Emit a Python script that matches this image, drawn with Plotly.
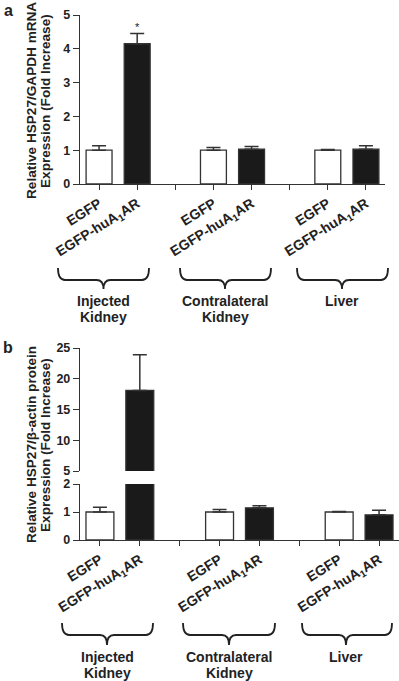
import plotly.graph_objects as go

W, H = 399, 681

def X(px):
    return px / W

def Y(py):
    return 1 - py / H

# ---------------- data ----------------
tick_labels = ["EGFP", "EGFP-huA<sub>1</sub>AR", "",
               "EGFP", "EGFP-huA<sub>1</sub>AR", "",
               "EGFP", "EGFP-huA<sub>1</sub>AR"]
tick_positions = [0, 1, 2, 3, 4, 5, 6, 7]
egfp_pos = [0, 3, 6]
hua_pos = [1, 4, 7]
groups_line1 = ["Injected", "Contralateral", "Liver"]
groups_line2 = ["Kidney", "Kidney", ""]

mrna_egfp = [1.0, 1.0, 1.0]
mrna_egfp_err = [0.13, 0.08, 0.02]
mrna_hua = [4.15, 1.03, 1.03]
mrna_hua_err = [0.30, 0.08, 0.10]
mrna_sig = ["*", "", ""]

prot_egfp = [1.0, 1.0, 1.0]
prot_egfp_err = [0.17, 0.09, 0.02]
prot_hua = [18.1, 1.15, 0.90]
prot_hua_err = [5.8, 0.07, 0.16]
prot_sig = ["*", "", ""]

FONT = "Liberation Sans, Arial, Helvetica, sans-serif"
INK = "#222222"
BLACK = "#1a1a1a"

fig = go.Figure()

def add_bars(vals, errs, pos, color, xa, ya, width):
    fig.add_trace(go.Bar(
        x=pos, y=vals, width=width, xaxis=xa, yaxis=ya,
        marker=dict(color=color, line=dict(color="#333333", width=1.3)),
        error_y=dict(type="data", symmetric=False, array=errs,
                     arrayminus=[0] * len(errs), color="#333333",
                     thickness=1.5, width=7),
        showlegend=False, hoverinfo="skip"))

def add_sig(vals, errs, pos, sig, xa, ya):
    fig.add_trace(go.Scatter(
        x=pos, y=[v + e for v, e in zip(vals, errs)], text=sig,
        mode="text", textposition="top center", xaxis=xa, yaxis=ya,
        textfont=dict(family=FONT, size=11, color=INK),
        showlegend=False, hoverinfo="skip"))

# panel a
add_bars(mrna_egfp, mrna_egfp_err, egfp_pos, "white", "x", "y", 0.68)
add_bars(mrna_hua, mrna_hua_err, hua_pos, BLACK, "x", "y", 0.68)
add_sig(mrna_hua, mrna_hua_err, hua_pos, mrna_sig, "x", "y")

# panel b (broken axis: lower y2, upper y3)
for ya in ("y2", "y3"):
    add_bars(prot_egfp, prot_egfp_err, egfp_pos, "white", "x2", ya, 0.70)
    add_bars(prot_hua, prot_hua_err, hua_pos, BLACK, "x2", ya, 0.70)
add_sig(prot_hua, prot_hua_err, hua_pos, prot_sig, "x2", "y3")

tickfont = dict(family=FONT, size=12.5, color=INK, weight="bold")
xtickfont = dict(family=FONT, size=14, color=INK, weight="bold")

common_x = dict(range=[-0.5, 7.5], tickmode="array", tickvals=tick_positions,
                ticktext=tick_labels, tickangle=-32, ticks="outside", ticklen=5,
                tickcolor="#333333", showline=True, linecolor="#333333",
                linewidth=1.2, showgrid=False, zeroline=False, tickfont=xtickfont,
                fixedrange=True, automargin=False)
common_y = dict(ticks="outside", ticklen=6, tickcolor="#333333", showline=True,
                linecolor="#333333", linewidth=1.2, showgrid=False,
                zeroline=False, tickfont=tickfont, fixedrange=True,
                automargin=False)

fig.update_layout(
    template="none",
    width=W, height=H, margin=dict(l=0, r=0, t=0, b=0, pad=0),
    paper_bgcolor="white", plot_bgcolor="white", barmode="overlay",
    xaxis=dict(domain=[X(80), X(385)], anchor="y", **common_x),
    yaxis=dict(domain=[Y(184), Y(15)], anchor="x", range=[0, 5],
               tickvals=[0, 1, 2, 3, 4, 5], **common_y),
    xaxis2=dict(domain=[X(80), 1.0], anchor="y2", **common_x),
    yaxis2=dict(domain=[Y(540), Y(484)], anchor="x2", range=[0, 2],
                tickvals=[0, 1, 2], **common_y),
    yaxis3=dict(domain=[Y(471), Y(348)], anchor="x2", range=[5, 25],
                tickvals=[5, 10, 15, 20, 25], **common_y),
    font=dict(family=FONT, color=INK),
)

ann_font = dict(family=FONT, size=14, color=INK, weight="bold")

def ann(text, px, py, size=14, angle=0):
    f = dict(ann_font)
    f["size"] = size
    fig.add_annotation(text=text, x=X(px), y=Y(py), xref="paper", yref="paper",
                       showarrow=False, xanchor="center", yanchor="middle",
                       textangle=angle, font=f)

# panel letters
ann("a", 8, 10, size=16)
ann("b", 8, 347, size=16)

# y titles
ann("Relative HSP27/GAPDH mRNA", 31, 101, size=13.6, angle=-90)
ann("Expression (Fold Increase)", 45, 101, size=13.6, angle=-90)
ann("Relative HSP27/β-actin protein", 31, 445, size=13.6, angle=-90)
ann("Expression (Fold Increase)", 45, 445, size=13.6, angle=-90)

# braces + group labels
def brace(x0, x1, xc, ytop, ymid, ytip, r=7):
    pts = [
        f"M {X(x0)},{Y(ytop)}",
        f"Q {X(x0)},{Y(ymid)} {X(x0 + r)},{Y(ymid)}",
        f"L {X(xc - r)},{Y(ymid)}",
        f"Q {X(xc)},{Y(ymid)} {X(xc)},{Y(ytip)}",
        f"Q {X(xc)},{Y(ymid)} {X(xc + r)},{Y(ymid)}",
        f"L {X(x1 - r)},{Y(ymid)}",
        f"Q {X(x1)},{Y(ymid)} {X(x1)},{Y(ytop)}",
    ]
    fig.add_shape(type="path", path=" ".join(pts), xref="paper", yref="paper",
                  line=dict(color=INK, width=1.8))

a_braces = [(58, 149, 103.5), (180, 271, 225), (297, 388, 342)]
b_braces = [(62, 153, 107), (183, 275, 229), (302, 392, 346)]
for (x0, x1, xc), l1, l2 in zip(a_braces, groups_line1, groups_line2):
    brace(x0, x1, xc, 268, 280, 289)
    ann(l1, xc, 301)
    if l2:
        ann(l2, xc, 317)
for (x0, x1, xc), l1, l2 in zip(b_braces, groups_line1, groups_line2):
    brace(x0, x1, xc, 623, 635, 645)
    ann(l1, xc, 657)
    if l2:
        ann(l2, xc, 673)

fig.write_html(
    "out.html",
    config={"displayModeBar": False, "staticPlot": True},
    post_script="document.body.style.margin='0';document.body.style.padding='0';"
                "document.documentElement.style.overflow='hidden';",
)
